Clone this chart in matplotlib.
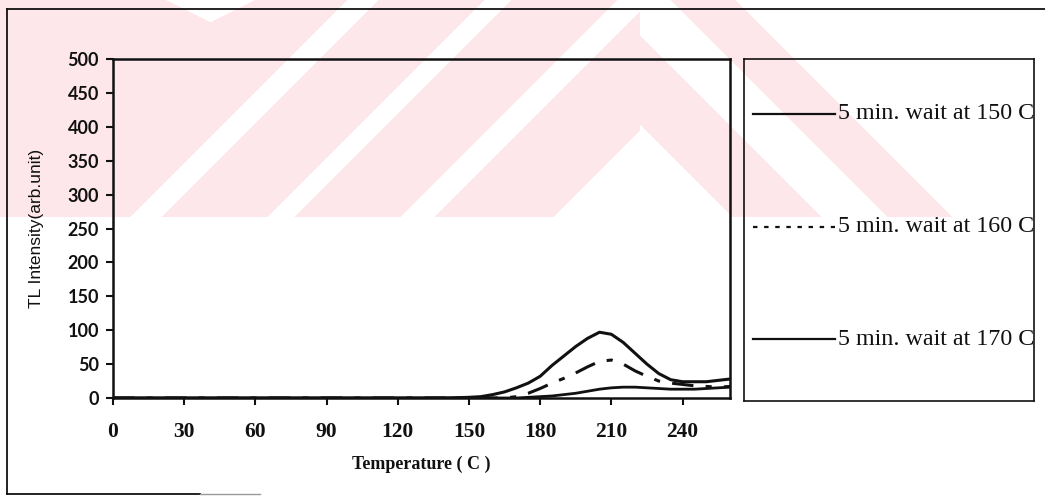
"""TL glow curves after 5 min. waits at 150/160/170 C (scanned thesis figure)."""
import matplotlib
matplotlib.use("Agg")
import matplotlib.pyplot as plt
from matplotlib.lines import Line2D
import numpy as np

# ── data ──────────────────────────────────────────────────────────────────
temperature = [0, 140, 150, 155, 160, 165, 170, 175, 180, 185, 190, 195, 200,
               205, 210, 215, 220, 225, 230, 235, 240, 245, 250, 255, 260]
wait_150 = [0, 0, 1, 2, 5, 9, 15, 22, 32, 48, 62, 76, 88,
            97, 94, 82, 66, 50, 36, 27, 24, 24, 24, 26, 28]
wait_160 = [0, 0, 0, 0, 0, 0, 2, 7, 14, 22, 29, 37, 46,
            54, 56, 50, 40, 32, 25, 22, 20, 18, 17, 16, 17]
wait_170 = [0, 0, 0, 0, 0, 0, 0, 1, 2, 3, 5, 7, 10,
            13, 15, 16, 16, 15, 14, 13, 13, 13, 14, 15, 16]

labels = ["5 min. wait at 150 C", "5 min. wait at 160 C", "5 min. wait at 170 C"]
x_ticks = [0, 30, 60, 90, 120, 150, 180, 210, 240]
y_ticks = list(range(0, 501, 50))

SERIF = ["Liberation Serif", "DejaVu Serif"]
SANS = ["Lato", "DejaVu Sans"]
INK = "#111111"
PINK = "#FDE7EB"

W, H = 1045, 496
fig = plt.figure(figsize=(W / 100, H / 100), dpi=100, facecolor="white")

# ── faint pink watermark of the scanned page (chevron stripes) ────────────
bg = fig.add_axes([0, 0, 1, 1], zorder=-10)
yy, xx = np.mgrid[0:H, 0:W]
u, w = xx + yy, xx - yy
left = (u < 347) | ((u > 377) & (u < 484)) | ((u > 510) & (u < 617)) | ((u > 650) & (u < 770))
right = ((w > 515) & (w < 605)) | ((w > 670) & (w < 736))
notch = yy < 22 - 0.5 * np.abs(xx - 210)
mask = np.where(xx < 640, left & ~notch, right) & (yy < 217)
rgb = np.ones((H, W, 3))
rgb[mask] = matplotlib.colors.to_rgb(PINK)
bg.imshow(rgb, extent=(0, W, H, 0), interpolation="nearest")
bg.set_xlim(0, W)
bg.set_ylim(H, 0)
bg.axis("off")

# outer frame of the scanned chart (left, top, partial bottom)
fig.add_artist(Line2D([7 / W, 7 / W], [1 - 494 / H, 1 - 9 / H], color=INK, lw=1.3))
fig.add_artist(Line2D([7 / W, 1], [1 - 9 / H, 1 - 9 / H], color=INK, lw=1.3))
fig.add_artist(Line2D([7 / W, 200 / W], [1 - 494 / H, 1 - 494 / H], color=INK, lw=1.3))
fig.add_artist(Line2D([200 / W, 260 / W], [1 - 494 / H, 1 - 494 / H], color="#999999", lw=1.0))

# ── plot area ─────────────────────────────────────────────────────────────
ax = fig.add_axes([113 / W, 1 - 398 / H, 617 / W, 339 / H])
ax.set_facecolor("none")
ax.plot(temperature, wait_150, color=INK, lw=2.2)
ax.plot(temperature, wait_160, color=INK, lw=2.2, dashes=(7, 4, 2, 4))
ax.plot(temperature, wait_170, color=INK, lw=2.0)

ax.set_xlim(0, 260)
ax.set_ylim(0, 500)
ax.set_xticks(x_ticks)
ax.set_yticks(y_ticks)
for s in ax.spines.values():
    s.set_linewidth(1.8)
    s.set_color(INK)
ax.tick_params(axis="both", direction="out", length=5, width=1.5, color=INK)
ax.tick_params(axis="x", pad=12)
ax.tick_params(axis="y", pad=5)
ax.set_xticklabels([str(t) for t in x_ticks], family=SERIF, fontweight="bold",
                   fontsize=15.5, color=INK)
ax.set_yticklabels([str(t) for t in y_ticks], family=SANS, fontweight="bold",
                   fontsize=13, color=INK)
ax.set_xlabel("Temperature ( C )", family=SERIF, fontweight="bold",
              fontsize=13, color=INK, labelpad=10)
ax.set_ylabel("TL Intensity(arb.unit)", family=["Liberation Sans", "DejaVu Sans"],
              fontsize=12.5, color=INK, labelpad=17)

# ── legend panel ──────────────────────────────────────────────────────────
lg = fig.add_axes([744 / W, 1 - 401 / H, 290 / W, 342 / H])
lg.set_facecolor("none")
lg.set_xlim(0, 1)
lg.set_ylim(0, 1)
lg.set_xticks([])
lg.set_yticks([])
for s in lg.spines.values():
    s.set_linewidth(1.2)
    s.set_color(INK)

legend_styles = [dict(ls="-"), dict(ls=(0, (2, 3))), dict(ls="-")]
legend_y = [0.84, 0.51, 0.18]
for lab, style, ly in zip(labels, legend_styles, legend_y):
    lg.add_line(Line2D([0.03, 0.315], [ly, ly], color=INK, lw=1.6, **style))
    lg.text(0.325, ly, lab, family=SERIF, fontsize=17.3, color=INK,
            ha="left", va="center")

fig.savefig("out.png", dpi=100, facecolor="white")
